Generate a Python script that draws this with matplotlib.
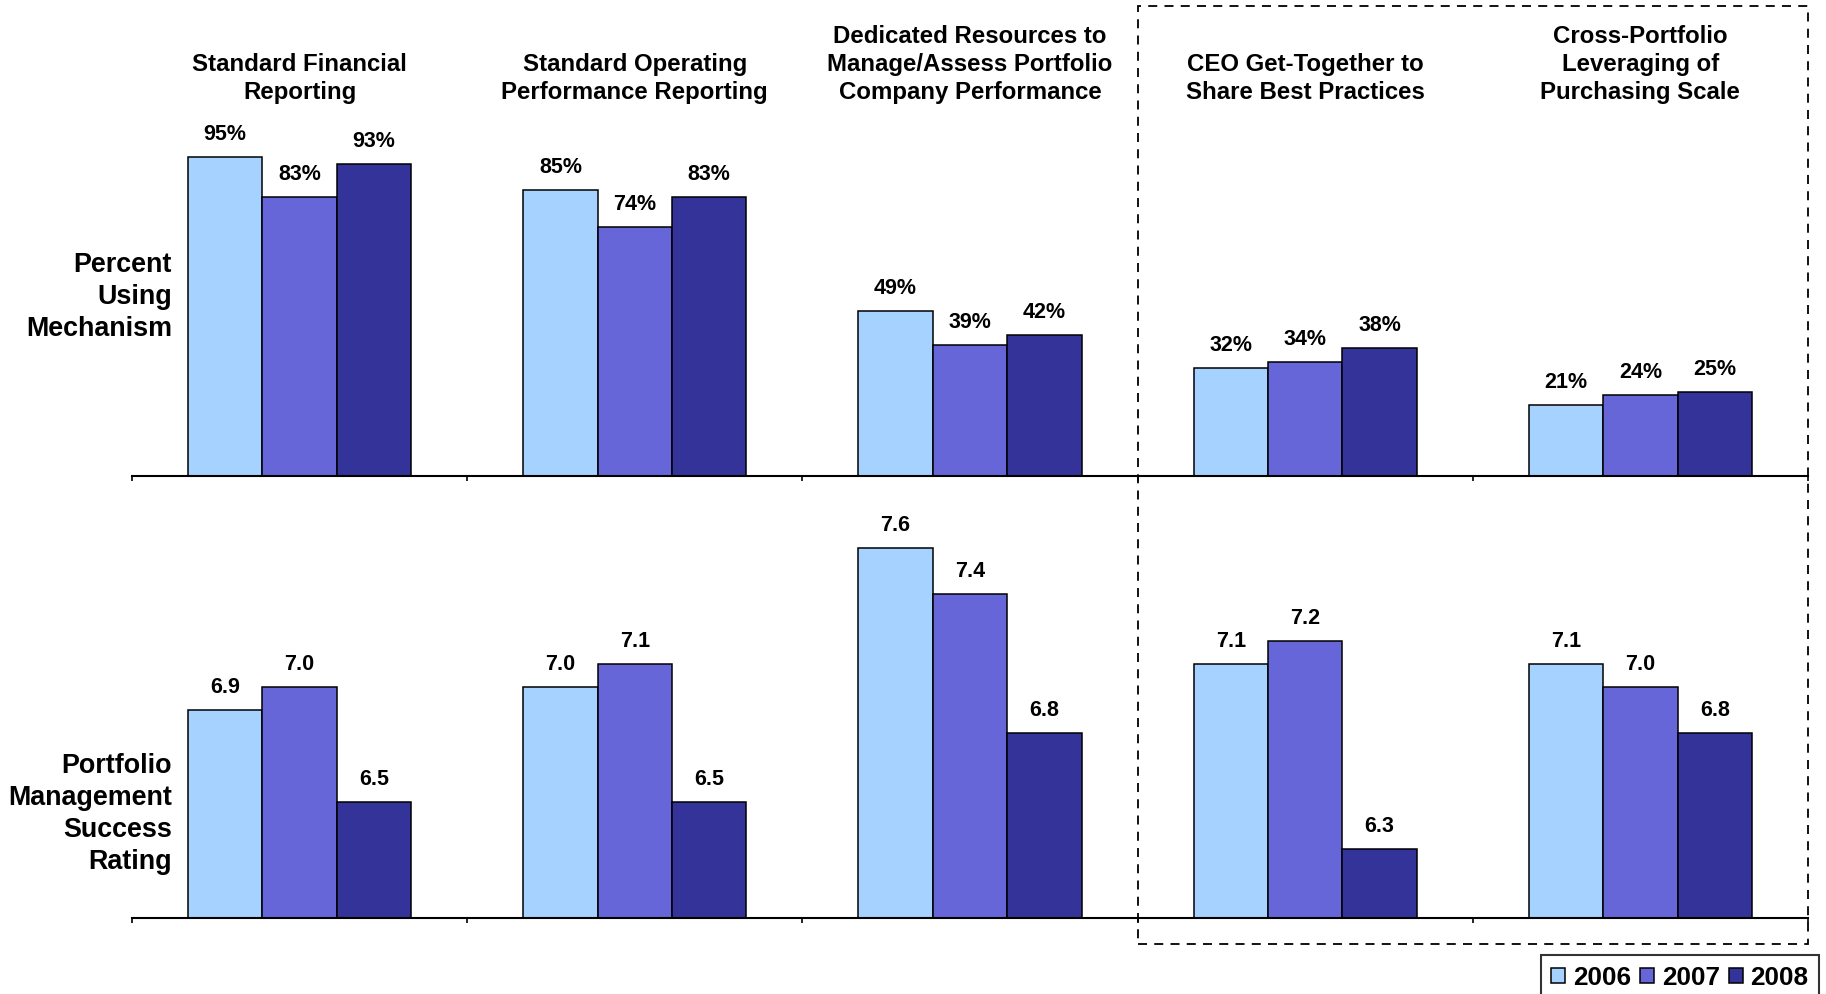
import matplotlib.pyplot as plt
from matplotlib.patches import Rectangle, Patch
import numpy as np

plt.rcParams['font.family'] = ['Liberation Sans', 'DejaVu Sans']
plt.rcParams['font.weight'] = 'bold'

# data
groups = ["Standard Financial\nReporting",
          "Standard Operating\nPerformance Reporting",
          "Dedicated Resources to\nManage/Assess Portfolio\nCompany Performance",
          "CEO Get-Together to\nShare Best Practices",
          "Cross-Portfolio\nLeveraging of\nPurchasing Scale"]
years = ["2006", "2007", "2008"]
colors = ["#A6D2FF", "#6666D9", "#333399"]

pct_2006 = [95, 85, 49, 32, 21]
pct_2007 = [83, 74, 39, 34, 24]
pct_2008 = [93, 83, 42, 38, 25]

rate_2006 = [6.9, 7.0, 7.6, 7.1, 7.1]
rate_2007 = [7.0, 7.1, 7.4, 7.2, 7.0]
rate_2008 = [6.5, 6.5, 6.8, 6.3, 6.8]

W, H = 1826, 994
fig = plt.figure(figsize=(W / 100, H / 100), dpi=100)

left = 132 / W
width = 1676 / W
ax_top = fig.add_axes([left, 1 - 476 / H, width, 336 / H])
ax_bot = fig.add_axes([left, 1 - 918 / H, width, 416 / H])

x = np.arange(len(groups))
bw = 0.222


def draw(ax, series, fmt, ylim):
    for i, vals in enumerate(series):
        xs = x + (i - 1) * bw
        bottom = ylim[0]
        bars = ax.bar(xs, np.array(vals) - bottom, bw, bottom=bottom,
                      color=colors[i], edgecolor='black', linewidth=1.1)
        for b, v in zip(bars, vals):
            ax.annotate(fmt.format(v), (b.get_x() + b.get_width() / 2, v),
                        xytext=(0, 12), textcoords='offset pixels',
                        ha='center', va='bottom', fontsize=15.5, fontweight='bold')
    ax.set_xlim(-0.5, len(groups) - 0.5)
    ax.set_ylim(*ylim)
    for s in ['top', 'right', 'left']:
        ax.spines[s].set_visible(False)
    ax.spines['bottom'].set_linewidth(1.5)
    ax.set_yticks([])
    ax.set_xticks(np.arange(-0.5, len(groups), 1.0))
    ax.set_xticklabels([])
    ax.tick_params(axis='x', length=3.5, width=1.2, direction='out')


draw(ax_top, [pct_2006, pct_2007, pct_2008], "{}%", (0, 100))
draw(ax_bot, [rate_2006, rate_2007, rate_2008], "{:.1f}", (6.0, 7.8))

# group titles
for i, g in enumerate(groups):
    fx = left + width * (i + 0.5) / len(groups)
    fig.text(fx, 1 - 104 / H, g, ha='center', va='bottom', fontsize=17.3,
             fontweight='bold', linespacing=1.27)

# row labels
fig.text(172 / W, 1 - 297 / H, "Percent\nUsing\nMechanism", ha='right', va='center',
         fontsize=19.4, fontweight='bold', linespacing=1.29)
fig.text(172 / W, 1 - 814 / H, "Portfolio\nManagement\nSuccess\nRating", ha='right',
         va='center', fontsize=19.4, fontweight='bold', linespacing=1.29)

# dashed box round the last two mechanisms
fig.patches.append(Rectangle((1138 / W, 1 - 944 / H), (1808 - 1138) / W, (944 - 6) / H,
                             transform=fig.transFigure, fill=False, edgecolor='black',
                             linewidth=1.3, linestyle=(0, (5, 4))))

handles = [Patch(facecolor=c, edgecolor='black', linewidth=1.1) for c in colors]
leg = fig.legend(handles, years, ncol=3, loc='lower right',
                 bbox_to_anchor=(1819 / W, -0.006), borderaxespad=0,
                 frameon=True, fancybox=False,
                 edgecolor='black', handlelength=0.53, handleheight=0.53,
                 handletextpad=0.3, columnspacing=0.35, borderpad=0.4,
                 prop={'weight': 'bold', 'size': 18.8})
leg.get_frame().set_linewidth(1.5)

fig.savefig("out.png", dpi=100)
